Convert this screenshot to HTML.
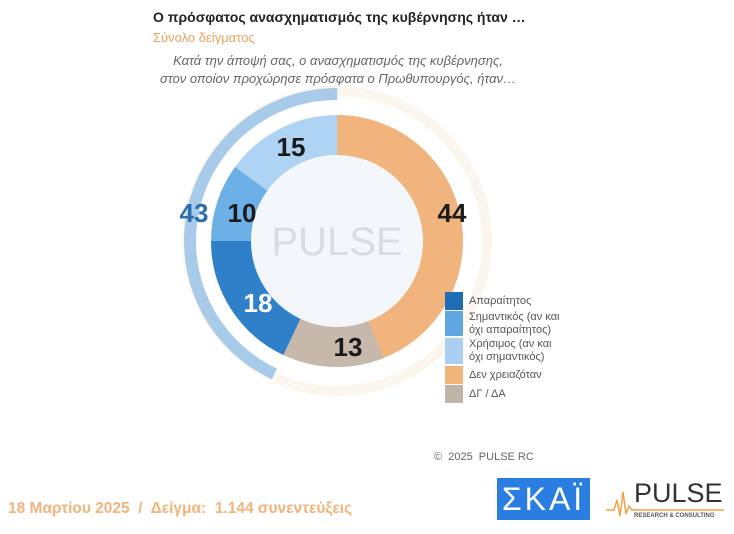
<!DOCTYPE html>
<html><head><meta charset="utf-8"><style>
body{margin:0;width:734px;height:534px;background:#fff;position:relative;overflow:hidden;font-family:"Liberation Sans",sans-serif}
.a{position:absolute;white-space:nowrap}
.lg{position:absolute;left:445px;width:18px}
.lt{position:absolute;left:469px;font-size:11px;color:#555;line-height:13px}
</style></head><body>
<div class="a" style="left:153px;top:9px;font-size:14px;font-weight:bold;color:#222">Ο πρόσφατος ανασχηματισμός της κυβέρνησης ήταν …</div>
<div class="a" style="left:153px;top:30px;font-size:13px;color:#e9a25e">Σύνολο δείγματος</div>
<div class="a" style="left:0;width:676px;text-align:center;top:52px;font-size:13px;font-style:italic;color:#666;line-height:18px;white-space:normal">Κατά την άποψή σας, ο ανασχηματισμός της κυβέρνησης,<br>στον οποίον προχώρησε πρόσφατα ο Πρωθυπουργός, ήταν…</div>
<svg class="a" style="left:0;top:0" width="734" height="534">
<circle cx="337" cy="241" r="150" fill="none" stroke="#fdf6ee" stroke-width="10"/>
<circle cx="337" cy="241" r="86" fill="#f3f7fb"/>
<g transform="translate(337 241)" fill="none" stroke-width="40">
<circle r="106" stroke="#f0b47c" stroke-dasharray="293.0 999" transform="rotate(-90)"/>
<circle r="106" stroke="#c6b8aa" stroke-dasharray="86.6 999" transform="rotate(68.4)"/>
<circle r="106" stroke="#2f80c8" stroke-dasharray="119.9 999" transform="rotate(115.2)"/>
<circle r="106" stroke="#6db0e8" stroke-dasharray="66.6 999" transform="rotate(180)"/>
<circle r="106" stroke="#aed3f3" stroke-dasharray="100 999" transform="rotate(216)"/>
<circle r="147" stroke="#a8cbe9" stroke-width="12" stroke-dasharray="397.2 999" transform="rotate(115.2)"/>
</g>
<text x="337" y="255" font-size="40" fill="#d8dde3" text-anchor="middle" font-family="Liberation Sans">PULSE</text>
<g font-family="Liberation Sans" font-weight="bold" font-size="26" text-anchor="middle">
<text x="291" y="156" fill="#1a1a1a">15</text>
<text x="242" y="222" fill="#1a1a1a">10</text>
<text x="194" y="222" fill="#2b6fb0">43</text>
<text x="452" y="222" fill="#1a1a1a">44</text>
<text x="258" y="312" fill="#fff">18</text>
<text x="348" y="356" fill="#1a1a1a">13</text>
</g>
</svg>
<div class="lg" style="top:292px;height:18px;background:#1f6db5"></div>
<div class="lg" style="top:311px;height:25px;background:#5fa6e2"></div>
<div class="lg" style="top:338px;height:26px;background:#a9cff2"></div>
<div class="lg" style="top:366px;height:18px;background:#f0b47c"></div>
<div class="lg" style="top:385px;height:18px;background:#c0b4a8"></div>
<div class="lt" style="top:295px">Απαραίτητος</div>
<div class="lt" style="top:311px">Σημαντικός (αν και<br>όχι απαραίτητος)</div>
<div class="lt" style="top:338px">Χρήσιμος (αν και<br>όχι σημαντικός)</div>
<div class="lt" style="top:369px">Δεν χρειαζόταν</div>
<div class="lt" style="top:388px">ΔΓ / ΔΑ</div>
<div class="a" style="left:434px;top:451px;font-size:11px;color:#666">©&nbsp; 2025&nbsp; PULSE RC</div>
<div class="a" style="left:8px;top:500px;font-size:15.5px;font-weight:bold;color:#f0b47c">18 Μαρτίου 2025&nbsp; /&nbsp; Δείγμα:&nbsp; 1.144 συνεντεύξεις</div>
<div class="a" style="left:497px;top:478px;width:93px;height:42px;background:#2a7de1;color:#fff;font-size:32px;line-height:42px;text-align:center;letter-spacing:3px">ΣΚΑΪ</div>
<div class="a" style="left:634px;top:478px;font-size:27px;color:#333;letter-spacing:0px">PULSE</div>
<div class="a" style="left:634px;top:513px;font-size:6px;color:#555;font-weight:bold">RESEARCH &amp; CONSULTING</div>
<svg class="a" style="left:606px;top:488px" width="120" height="30"><polyline points="0,22 8,22 11,12 14,28 17,4 20,26 23,18 26,22 118,22" fill="none" stroke="#f0a040" stroke-width="1.5"/></svg>
</body></html>
